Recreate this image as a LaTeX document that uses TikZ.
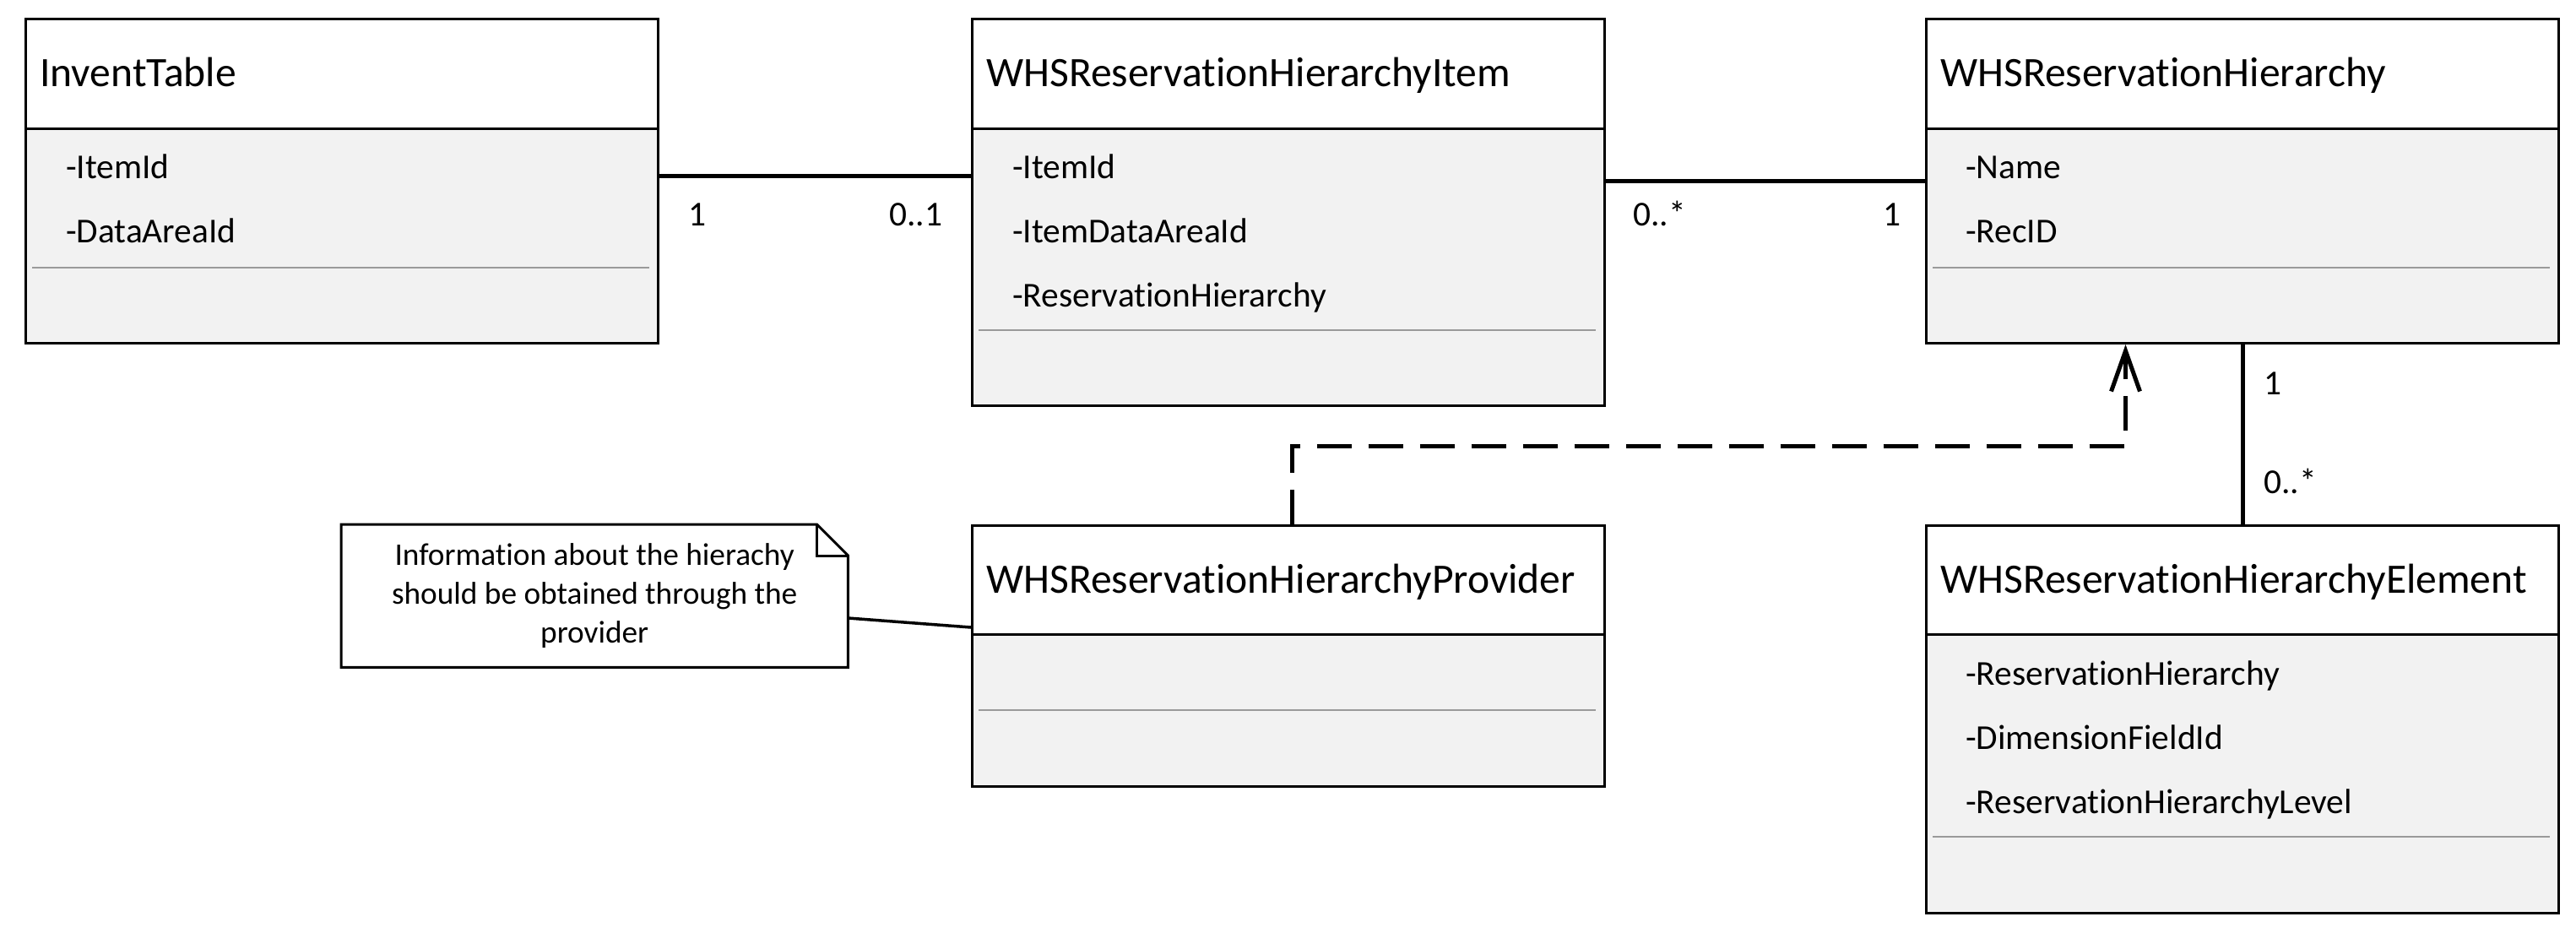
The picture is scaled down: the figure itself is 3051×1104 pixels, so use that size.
\documentclass[tikz,border=0pt]{standalone}
\usepackage{fontspec}
\setmainfont{Carlito}[Ligatures=NoCommon, RawFeature={-liga;-clig;-dlig}]
\usetikzlibrary{arrows.meta}
\definecolor{compfill}{HTML}{F2F2F2}
\definecolor{dotgray}{HTML}{9A9A9A}
\tikzset{
  classbox/.style={draw=black, line width=3pt, fill=none, inner sep=0pt, rectangle},
  sepline/.style={draw=black, line width=3pt},
  dotline/.style={draw=dotgray, line width=1.5pt},
  titletext/.style={inner sep=0pt, anchor=base west, font=\fontsize{49.6}{60}\selectfont},
  attrtext/.style={inner sep=0pt, anchor=base west, font=\fontsize{41.4}{50}\selectfont},
  multtext/.style={inner sep=0pt, anchor=base west, font=\fontsize{41.4}{50}\selectfont},
  assoc/.style={draw=black, line width=5pt},
  depend/.style={draw=black, line width=5pt, dash pattern=on 41pt off 20pt,
     -{Straight Barb[length=48pt, width=34pt]}},
  noteline/.style={draw=black, line width=3pt, line join=miter},
  notebox/.style={inner sep=0pt, rectangle, align=center, font=\fontsize{37.3}{46}\selectfont},
}
\newcommand\umlclass[8]{%
  \fill[compfill] (#2,#3+#6) rectangle (#2+#4,#3+#5);
  \node[classbox, minimum width=#4pt, minimum height=#5pt, anchor=north west] (#1) at (#2,#3) {};
  \draw[sepline] (#2,#3+#6) -- (#2+#4,#3+#6);
  \draw[dotline] (#2+9,#3+#7) -- (#2+#4-9,#3+#7);
  \node[titletext] (#1-title) at (#2+18,#3+81) {#8};
}
\begin{document}
\begin{tikzpicture}[x=1pt,y=-1pt]
\useasboundingbox (0,0) rectangle (3051,1104);
\fill[white] (0,0) rectangle (3051,1104);

% classes
\umlclass{inv}{29}{21}{749}{384}{131}{296}{InventTable}
\node[attrtext] (inv-a1) at (78,211) {-ItemId};
\node[attrtext] (inv-a2) at (78,287) {-DataAreaId};

\umlclass{item}{1150}{21}{749}{458}{131}{370}{WHSReservationHierarchyItem}
\node[attrtext] (item-a1) at (1199,211) {-ItemId};
\node[attrtext] (item-a2) at (1199,287) {-ItemDataAreaId};
\node[attrtext] (item-a3) at (1199,363) {-ReservationHierarchy};

\umlclass{hier}{2280}{21}{749}{384}{131}{296}{WHSReservationHierarchy}
\node[attrtext] (hier-a1) at (2328,211) {-Name};
\node[attrtext] (hier-a2) at (2328,287) {-RecID};

\umlclass{prov}{1150}{621}{749}{309}{130}{220}{WHSReservationHierarchyProvider}

\umlclass{elem}{2280}{621}{749}{459}{130}{370}{WHSReservationHierarchyElement}
\node[attrtext] (elem-a1) at (2328,811) {-ReservationHierarchy};
\node[attrtext] (elem-a2) at (2328,887) {-DimensionFieldId};
\node[attrtext] (elem-a3) at (2328,963) {-ReservationHierarchyLevel};

% note
\node[notebox, minimum width=600pt, minimum height=169pt, anchor=north west] (note) at (404,621)
  {Information about the hierachy\\should be obtained through the\\provider};
\draw[noteline] (note.north west) -- ([xshift=-37pt]note.north east) -- ([yshift=-37pt]note.north east)
  -- (note.south east) -- (note.south west) -- cycle;
\draw[noteline] ([xshift=-37pt]note.north east) -- ([xshift=-37pt,yshift=-37pt]note.north east)
  -- ([yshift=-37pt]note.north east);

% connectors
\draw[assoc] (inv.east |- 0,208) -- (item.west |- 0,208);
\draw[assoc] (item.east |- 0,214) -- (hier.west |- 0,214);
\draw[assoc] (hier.south) -- (elem.north);
\draw[line width=3.5pt] (note.east |- 0,732) -- (prov.west |- 0,743);
\draw[depend] ([xshift=4.5pt]prov.north) -- ++(0,-93) -| ([xshift=-138.5pt]hier.south);

% multiplicities
\node[multtext] (m1) at (815,267) {1};
\node[multtext] (m2) at (1053,267) {0..1};
\node[multtext] (m3) at (1934,267) {0..*};
\node[multtext] (m4) at (2230,267) {1};
\node[multtext] (m5) at (2681,467) {1};
\node[multtext] (m6) at (2681,584) {0..*};
\end{tikzpicture}
\end{document}
